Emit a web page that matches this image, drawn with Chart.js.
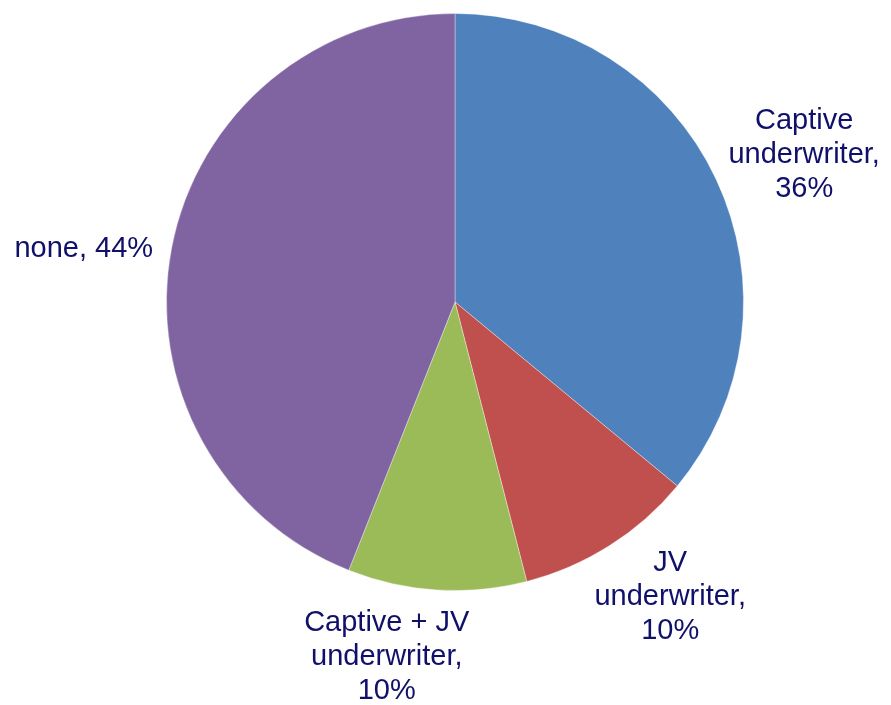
<!DOCTYPE html>
<html>
<head>
<meta charset="utf-8">
<script src="https://cdn.jsdelivr.net/npm/chart.js@4.4.1/dist/chart.umd.min.js"></script>
<style>
  html, body { margin: 0; padding: 0; background: #ffffff; }
  #wrap { width: 891px; height: 705px; }
</style>
</head>
<body>
<div id="wrap"><canvas id="pie" width="891" height="705"></canvas></div>
<script>
const categories = ['Captive underwriter', 'JV underwriter', 'Captive + JV underwriter', 'none'];
const shares = [36, 10, 10, 44];
const sliceColors = ['#4F81BD', '#C0504D', '#9BBB59', '#8064A2'];

// small hand nudges so the labels sit where Excel put them
const labelShift = [[6, 4], [12, -4], [-44, 1], [-5, 7]];

const labelFont = '29px "Liberation Sans", Arial, sans-serif';
const lineHeight = 34;
const wrapWidth = 175;

function wrapText(ctx, text) {
    const words = text.split(' ');
    const lines = [];
    let line = '';
    words.forEach(w => {
        const test = line ? line + ' ' + w : w;
        if (line && ctx.measureText(test).width > wrapWidth) {
            lines.push(line);
            line = w;
        } else {
            line = test;
        }
    });
    if (line) lines.push(line);
    return lines;
}

const outsideLabels = {
    id: 'outsideLabels',
    afterDatasetsDraw(chart) {
        const ctx = chart.ctx;
        const meta = chart.getDatasetMeta(0);
        ctx.save();
        ctx.font = labelFont;
        ctx.fillStyle = '#10106A';
        ctx.textAlign = 'center';
        ctx.textBaseline = 'middle';
        meta.data.forEach((arc, i) => {
            const p = arc.getProps(['x', 'y', 'startAngle', 'endAngle', 'outerRadius'], true);
            const mid = (p.startAngle + p.endAngle) / 2;
            const text = categories[i] + ', ' + shares[i] + '%';
            const lines = wrapText(ctx, text);
            const boxW = Math.max(...lines.map(l => ctx.measureText(l).width));
            const boxH = lines.length * lineHeight;
            const r = p.outerRadius + 15;
            const cx = p.x + Math.cos(mid) * r + Math.cos(mid) * boxW / 2 + labelShift[i][0];
            const cy = p.y + Math.sin(mid) * r + Math.sin(mid) * boxH / 2 + labelShift[i][1];
            lines.forEach((l, k) => {
                ctx.fillText(l, cx, cy - boxH / 2 + lineHeight * (k + 0.5));
            });
        });
        ctx.restore();
    }
};

const chart = new Chart(document.getElementById('pie').getContext('2d'), {
    type: 'pie',
    data: {
        labels: categories,
        datasets: [{
            data: shares,
            backgroundColor: sliceColors,
            borderColor: 'rgba(255,255,255,0.35)',
            borderWidth: 1
        }]
    },
    options: {
        responsive: false,
        animation: false,
        layout: {
            padding: { top: 13, bottom: 114, left: 19, right: 0 }
        },
        plugins: {
            legend: { display: false },
            tooltip: { enabled: false }
        }
    },
    plugins: [outsideLabels]
});
</script>
</body>
</html>
